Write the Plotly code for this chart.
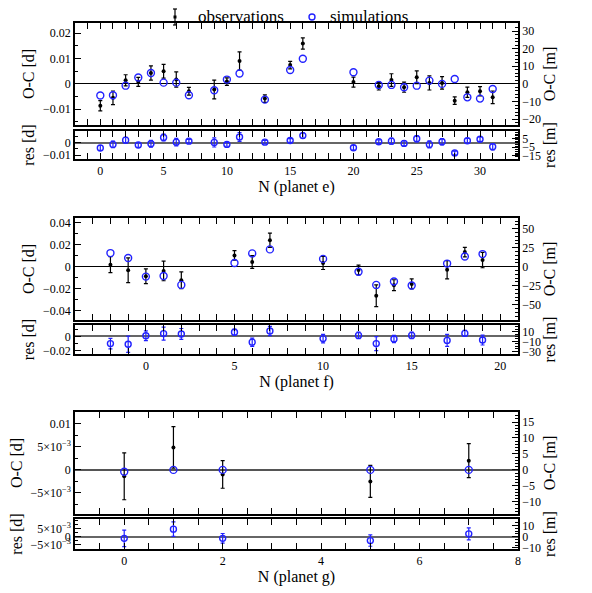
import plotly.graph_objects as go

# ---------------- data ----------------
# planet e
e_N = [0, 1, 2, 3, 4, 5, 6, 7, 9, 10, 11, 13, 15, 16, 20, 22, 23, 24, 25, 26, 27, 28, 29, 30, 31]
e_obs = [-0.0086, -0.0055, 0.0014, 0.0008, 0.0043, 0.0050, 0.0017, -0.0029, -0.0022, 0.0009, 0.0090,
         -0.0058, 0.0074, 0.0159, 0.0007, -0.0009, 0.0015, -0.0013, 0.0026, 0.0004, 0.0004, -0.0066,
         -0.0033, -0.0029, -0.0053]
e_err = [0.0020, 0.0027, 0.0022, 0.0018, 0.0028, 0.0027, 0.0030, 0.0015, 0.0037, 0.0015, 0.0036,
         0.0015, 0.0015, 0.0022, 0.0020, 0.0015, 0.0025, 0.0020, 0.0025, 0.0028, 0.0025, 0.0015,
         0.0020, 0.0018, 0.0025]
e_sim = [-0.0046, -0.0045, -0.0007, 0.0025, 0.0043, 0.0005, 0.0005, -0.0045, -0.0025, 0.0017, 0.0041,
         -0.0062, 0.0055, 0.0099, 0.0046, -0.0004, -0.0004, -0.0013, -0.0007, 0.0013, 0.0000, 0.0019,
         -0.0053, -0.0058, -0.0020]
e_res = [-0.0042, -0.0013, 0.0021, -0.0018, -0.0008, 0.0042, 0.0005, 0.0013, 0.0003, -0.0013, 0.0047,
         0.0005, 0.0018, 0.0058, -0.0040, 0.0008, 0.0013, -0.0005, 0.0032, -0.0013, 0.0008, -0.0082,
         0.0016, 0.0029, -0.0032]

# planet f
f_N = [-2, -1, 0, 1, 2, 5, 6, 7, 10, 12, 13, 14, 15, 17, 18, 19]
f_obs = [0.0018, -0.0033, -0.0088, -0.0039, -0.0124, 0.0103, 0.0042, 0.0242, 0.0034, -0.0031,
         -0.0266, -0.0170, -0.0158, -0.0028, 0.0133, 0.0060]
f_err = [0.0073, 0.0114, 0.0068, 0.0090, 0.0077, 0.0043, 0.0058, 0.0065, 0.0060, 0.0045,
         0.0099, 0.0050, 0.0046, 0.0084, 0.0043, 0.0070]
f_sim = [0.0124, 0.0079, -0.0091, -0.0085, -0.0167, 0.0033, 0.0121, 0.0158, 0.0071, -0.0046,
         -0.0167, -0.0136, -0.0173, 0.0028, 0.0093, 0.0115]
f_res = [-0.0100, -0.0110, 0.0010, 0.0040, 0.0035, 0.0060, -0.0080, 0.0076, -0.0030, 0.0015,
         -0.0100, -0.0036, 0.0015, -0.0055, 0.0043, -0.0050]

# planet g
g_N = [0, 1, 2, 5, 7]
g_obs = [-0.0014, 0.0049, -0.0010, -0.0025, 0.0020]
g_err = [0.0051, 0.0045, 0.0030, 0.0035, 0.0037]
g_sim = [-0.0004, 0.0000, 0.0000, 0.0000, 0.0000]
g_res = [-0.0010, 0.0047, -0.0010, -0.0024, 0.0018]

panel_names = ["N (planet e)", "N (planet f)", "N (planet g)"]
g_ticks_d = [-0.005, 0, 0.005, 0.01]
g_ticks_txt = ["\u22125\u00d710<sup>\u22123</sup>", "0", "5\u00d710<sup>\u22123</sup>", "0.01"]
g_res_ticks_d = [-0.005, 0, 0.005]
g_res_ticks_txt = ["\u22125\u00d710<sup>\u22123</sup>", "0", "5\u00d710<sup>\u22123</sup>"]

DAY2MIN = 1440.0

# ---------------- layout helpers ----------------
W, H = 592, 593
OFF = 8  # page offset of the plot div inside the browser page
ML = 75 - OFF
MR = W - 518 + OFF
FONT = "Liberation Serif"
BLUE = "#2222ff"

def py(px):
    return 1 - (px - OFF) / H

def px2paper_x(px):
    return (px - OFF - ML) / (W - ML - MR)

panels = [
    dict(N=e_N, obs=e_obs, err=e_err, sim=e_sim, res=e_res,
         xr=[-2, 33], xd=5, xm=1,
         main=(23, 125), resd=(131, 159),
         yr=[-0.0162, 0.024], yd=0.01, ym=0.005, y2d=10, y2m=2,
         rr=[-0.0131, 0.0095], rd=0.01, rm=0.005, r2d=10, r2m=2, r2t0=5),
    dict(N=f_N, obs=f_obs, err=f_err, sim=f_sim, res=f_res,
         xr=[-4, 21], xd=5, xm=1,
         main=(218, 320), resd=(325, 354),
         yr=[-0.0488, 0.0445], yd=0.02, ym=0.01, y2d=25, y2m=5,
         rr=[-0.0246, 0.0161], rd=0.02, rm=0.01, r2d=20, r2m=5, r2t0=10),
    dict(N=g_N, obs=g_obs, err=g_err, sim=g_sim, res=g_res,
         xr=[-1, 8], xd=2, xm=0.5,
         main=(412, 514), resd=(519, 549),
         yr=[-0.0096, 0.0126], yd=None, ym=0.0025, y2d=5, y2m=1,
         rr=[-0.0076, 0.011], rd=None, rm=0.0025, r2d=10, r2m=2.5, r2t0=0),
]

fig = go.Figure()
layout = {}

axis_common = dict(showline=True, linecolor="black", linewidth=1.5, ticks="inside",
                   ticklen=6, tickwidth=1, tickcolor="black", showgrid=False, automargin=False,
                   tickfont=dict(family=FONT, size=12, color="black"))
TITLE_FONT = dict(family=FONT, size=16, color="black")

for p, P in enumerate(panels):
    xm_id = 2 * p + 1
    xr_id = 2 * p + 2
    ym_id = 4 * p + 1
    ym2_id = 4 * p + 2
    yr_id = 4 * p + 3
    yr2_id = 4 * p + 4

    def nm(prefix, i):
        return prefix if i == 1 else f"{prefix}{i}"

    # traces
    fig.add_trace(go.Scatter(
        x=P["N"], y=P["obs"], mode="markers", name="observations", showlegend=False,
        marker=dict(color="black", size=4, symbol="circle"),
        error_y=dict(type="data", array=P["err"], color="black", thickness=1.2, width=2),
        xaxis=nm("x", xm_id), yaxis=nm("y", ym_id)))
    fig.add_trace(go.Scatter(
        x=P["N"], y=P["sim"], mode="markers", name="simulations", showlegend=False,
        marker=dict(color=BLUE, size=7, symbol="circle-open", line=dict(color=BLUE, width=1.4)),
        xaxis=nm("x", xm_id), yaxis=nm("y", ym_id)))
    fig.add_trace(go.Scatter(
        x=P["N"], y=P["res"], mode="markers", showlegend=False,
        marker=dict(color=BLUE, size=6, symbol="circle-open", line=dict(color=BLUE, width=1.4)),
        error_y=dict(type="data", array=P["err"], color=BLUE, thickness=1.2, width=2),
        xaxis=nm("x", xr_id), yaxis=nm("y", yr_id)))
    # carriers for the right-hand (minutes) axes
    fig.add_trace(go.Scatter(x=[], y=[], showlegend=False, hoverinfo="skip",
                             xaxis=nm("x", xm_id), yaxis=nm("y", ym2_id)))
    fig.add_trace(go.Scatter(x=[], y=[], showlegend=False, hoverinfo="skip",
                             xaxis=nm("x", xr_id), yaxis=nm("y", yr2_id)))

    mdom = [py(P["main"][1]), py(P["main"][0])]
    rdom = [py(P["resd"][1]), py(P["resd"][0])]

    minor_x = dict(dtick=P["xm"], tick0=0, ticklen=3, ticks="inside", tickcolor="black", showgrid=False)
    # x axes
    layout[nm("xaxis", xm_id)] = dict(axis_common, domain=[0, 1], range=P["xr"], anchor=nm("y", ym_id),
                                      dtick=P["xd"], tick0=0, showticklabels=False, mirror="allticks",
                                      zeroline=False, matches=nm("x", xr_id), minor=minor_x)
    layout[nm("xaxis", xr_id)] = dict(axis_common, domain=[0, 1], range=P["xr"], anchor=nm("y", yr_id),
                                      dtick=P["xd"], tick0=0, mirror="allticks", zeroline=False,
                                      title=dict(text=panel_names[p], font=TITLE_FONT, standoff=4),
                                      minor=minor_x)
    # main y left
    ymain = dict(axis_common, domain=mdom, range=P["yr"], anchor=nm("x", xm_id),
                 zeroline=True, zerolinecolor="black", zerolinewidth=1.2,
                 title=dict(text="O-C [d]", font=TITLE_FONT, standoff=4),
                 minor=dict(dtick=P["ym"], tick0=0, ticklen=3, ticks="inside", tickcolor="black",
                            showgrid=False))
    if P["yd"] is None:
        ymain.update(tickmode="array", tickvals=g_ticks_d, ticktext=g_ticks_txt)
        ymain["zerolinecolor"] = "#555555"
        ymain["zerolinewidth"] = 1.6
    else:
        ymain.update(dtick=P["yd"], tick0=0)
    layout[nm("yaxis", ym_id)] = ymain
    layout[nm("yaxis", ym2_id)] = dict(axis_common, range=[v * DAY2MIN for v in P["yr"]],
                                       overlaying=nm("y", ym_id), side="right", anchor=nm("x", xm_id),
                                       dtick=P["y2d"], tick0=0, zeroline=False,
                                       title=dict(text="O-C [m]", font=TITLE_FONT, standoff=4),
                                       minor=dict(dtick=P["y2m"], tick0=0, ticklen=3, ticks="inside",
                                                  tickcolor="black", showgrid=False))
    # residual y left
    yres = dict(axis_common, domain=rdom, range=P["rr"], anchor=nm("x", xr_id),
                zeroline=True, zerolinecolor="#666666", zerolinewidth=1.6,
                title=dict(text="res [d]", font=TITLE_FONT, standoff=4),
                minor=dict(dtick=P["rm"], tick0=0, ticklen=3, ticks="inside", tickcolor="black",
                           showgrid=False))
    if P["rd"] is None:
        yres.update(tickmode="array", tickvals=g_res_ticks_d, ticktext=g_res_ticks_txt)
    else:
        yres.update(dtick=P["rd"], tick0=0)
    layout[nm("yaxis", yr_id)] = yres
    layout[nm("yaxis", yr2_id)] = dict(axis_common, range=[v * DAY2MIN for v in P["rr"]],
                                       overlaying=nm("y", yr_id), side="right", anchor=nm("x", xr_id),
                                       dtick=P["r2d"], tick0=P["r2t0"], zeroline=False,
                                       title=dict(text="res [m]", font=TITLE_FONT, standoff=4),
                                       minor=dict(dtick=P["r2m"], tick0=0, ticklen=3, ticks="inside",
                                                  tickcolor="black", showgrid=False))

# ---------------- manual legend ----------------
LY = 17
lx_obs = px2paper_x(175)
ly = py(LY)
shapes = [
    dict(type="line", xref="paper", yref="paper", x0=lx_obs, x1=lx_obs, y0=py(LY - 8), y1=py(LY + 8),
         line=dict(color="black", width=1.2)),
    dict(type="line", xref="paper", yref="paper", x0=px2paper_x(173), x1=px2paper_x(177),
         y0=py(LY - 8), y1=py(LY - 8), line=dict(color="black", width=1.2)),
    dict(type="line", xref="paper", yref="paper", x0=px2paper_x(173), x1=px2paper_x(177),
         y0=py(LY + 8), y1=py(LY + 8), line=dict(color="black", width=1.2)),
    dict(type="rect", xref="paper", yref="paper", x0=px2paper_x(173.5), x1=px2paper_x(176.5),
         y0=py(LY + 1.5), y1=py(LY - 1.5), fillcolor="black", line=dict(width=0)),
    dict(type="circle", xref="paper", yref="paper", x0=px2paper_x(309), x1=px2paper_x(315),
         y0=py(LY + 3), y1=py(LY - 3), line=dict(color=BLUE, width=1.4)),
]
annotations = [
    dict(text="observations", xref="paper", yref="paper", x=px2paper_x(196), y=ly, xanchor="left",
         yanchor="middle", showarrow=False, font=dict(family=FONT, size=17, color="black")),
    dict(text="simulations", xref="paper", yref="paper", x=px2paper_x(328), y=ly, xanchor="left",
         yanchor="middle", showarrow=False, font=dict(family=FONT, size=17, color="black")),
]

fig.update_layout(
    width=W, height=H,
    margin=dict(l=ML, r=MR, t=0, b=0, autoexpand=False),
    paper_bgcolor="white", plot_bgcolor="white",
    showlegend=False,
    font=dict(family=FONT, size=12, color="black"),
    shapes=shapes, annotations=annotations,
    **layout,
)

fig.write_html("out.html")
